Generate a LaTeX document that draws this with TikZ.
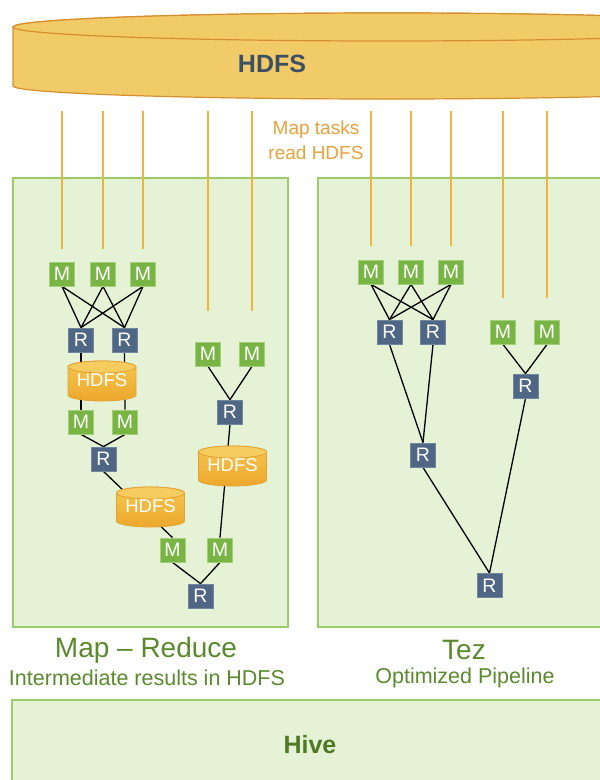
\documentclass[tikz,border=0pt]{standalone}
\usepackage{fontspec}
\setmainfont{Liberation Sans}
\usetikzlibrary{calc}
\definecolor{boxfill}{HTML}{E5F2D5}
\definecolor{boxline}{HTML}{9CCB6A}
\definecolor{mfill}{HTML}{78B544}
\definecolor{mline}{HTML}{A2CF78}
\definecolor{rfill}{HTML}{4F6784}
\definecolor{rline}{HTML}{71879E}
\definecolor{bigfill}{HTML}{F1CB68}
\definecolor{bigline}{HTML}{D98E2E}
\definecolor{cyltopc}{HTML}{F7CC5E}
\definecolor{cylupc}{HTML}{F6C650}
\definecolor{cyldownc}{HTML}{ECA82C}
\definecolor{cylline}{HTML}{E3A232}
\definecolor{orangeline}{HTML}{F0B43A}
\definecolor{orangetext}{HTML}{E6A23C}
\definecolor{labelgreen}{HTML}{5B8A2E}
\definecolor{hivegreen}{HTML}{4E7A25}
\definecolor{hdfstext}{HTML}{3D4F63}
\pgfdeclarelayer{back}
\pgfdeclarelayer{wires}
\pgfsetlayers{back,wires,main}
\tikzset{
  greenbox/.style={fill=boxfill,draw=boxline,line width=1.2pt},
  mbox/.style={rectangle,fill=mfill,draw=mline,line width=0.8pt,minimum width=25pt,minimum height=24pt,inner sep=0pt,text=white,font=\fontsize{19.5}{19.5}\selectfont},
  rbox/.style={rectangle,fill=rfill,draw=rline,line width=0.8pt,minimum width=25pt,minimum height=24pt,inner sep=0pt,text=white,font=\fontsize{19.5}{19.5}\selectfont},
  cylbody/.style={top color=cylupc,bottom color=cyldownc,draw=cylline,line width=0.8pt},
  cyltop/.style={fill=cyltopc,draw=cylline,line width=0.8pt},
  cyltext/.style={rectangle,minimum width=68pt,minimum height=40pt,inner sep=0pt,text=white,font=\fontsize{18.5}{18.5}\selectfont},
  wire/.style={draw=black,line width=1.3pt},
  readline/.style={draw=orangeline,line width=1.5pt},
}
\newcommand{\smallcyl}[3]{%
  \path[cylbody] (#2-34,#3+14) -- (#2-34,#3-14)
    arc[start angle=180,end angle=360,x radius=34,y radius=6]
    -- (#2+34,#3+14)
    arc[start angle=0,end angle=180,x radius=34,y radius=6] -- cycle;
  \path[cyltop] (#2,#3+14) ellipse[x radius=34,y radius=6];
  \node[cyltext] (#1) at (#2,#3+1) {HDFS};
}
\begin{document}
\begin{tikzpicture}[x=1pt,y=1pt]
\useasboundingbox (0,0) rectangle (600,-780);

\begin{pgfonlayer}{back}
  \fill[white] (0,0) rectangle (600,-780);
  \path[greenbox] (13,-178) rectangle (288,-627);
  \path[greenbox] (318,-178) rectangle (640,-627);
  \path[greenbox] (12,-700) rectangle (640,-800);
  % big HDFS cylinder
  \path[fill=bigfill,draw=bigline,line width=1.2pt] (13,-27) -- (13,-86)
    arc[start angle=180,end angle=360,x radius=374,y radius=13]
    -- (761,-27)
    arc[start angle=0,end angle=180,x radius=374,y radius=14] -- cycle;
  \path[fill=bigfill,draw=bigline,line width=1.2pt] (387,-27) ellipse[x radius=374,y radius=14];
\end{pgfonlayer}

\node[text=hdfstext,font=\bfseries\fontsize{25}{25}\selectfont] (hdfs) at (272,-64) {HDFS};
\node[text=orangetext,align=center,font=\fontsize{19}{25}\selectfont] (maptasks) at (316,-140) {Map tasks\\read HDFS};

% left side: Map-Reduce
\node[mbox] (m1) at (62,-274) {M};
\node[mbox] (m2) at (103,-274) {M};
\node[mbox] (m3) at (143,-274) {M};
\node[rbox] (r1) at (81,-340) {R};
\node[rbox] (r2) at (124.5,-340) {R};
\smallcyl{h1}{102}{-381}
\node[mbox] (m4) at (81,-422) {M};
\node[mbox] (m5) at (125,-422) {M};
\node[rbox] (r3) at (103.5,-459) {R};
\smallcyl{h2}{150.5}{-507}
\node[mbox] (m6) at (172.5,-550) {M};
\node[mbox] (m7) at (220,-550) {M};
\node[rbox] (r4) at (200.5,-596) {R};
\node[mbox] (m8) at (208,-354) {M};
\node[mbox] (m9) at (252,-354) {M};
\node[rbox] (r5) at (230,-412) {R};
\smallcyl{h3}{232.5}{-466}

% right side: Tez
\node[mbox] (m10) at (371,-272) {M};
\node[mbox] (m11) at (411,-272) {M};
\node[mbox] (m12) at (451,-272) {M};
\node[rbox] (r6) at (389.5,-332) {R};
\node[rbox] (r7) at (433,-332) {R};
\node[mbox] (m13) at (503,-332) {M};
\node[mbox] (m14) at (547,-332) {M};
\node[rbox] (r8) at (525.5,-386) {R};
\node[rbox] (r9) at (423,-455) {R};
\node[rbox] (r10) at (489.5,-585.5) {R};

% labels
\node[text=labelgreen,font=\fontsize{28}{28}\selectfont] (mrlabel) at (146,-650) {Map -- Reduce};
\node[text=labelgreen,font=\fontsize{21.5}{21.5}\selectfont] (mrsub) at (147,-678) {Intermediate results in HDFS};
\node[text=labelgreen,font=\fontsize{28}{28}\selectfont] (tezlabel) at (464,-650) {Tez};
\node[text=labelgreen,font=\fontsize{21.5}{21.5}\selectfont] (tezsub) at (465,-678) {Optimized Pipeline};
\node[text=hivegreen,font=\bfseries\fontsize{25}{25}\selectfont] (hive) at (310,-745) {Hive};

% orange read lines
\coordinate (src) at (0,-111);
\begin{pgfonlayer}{wires}
  \foreach \n/\s in {m1/13,m2/13,m3/13,m8/31,m9/31,m10/14,m11/14,m12/14,m13/22,m14/22}{
    \draw[readline] (\n.north |- src) -- ([yshift=\s pt]\n.north);
  }
  % map-reduce wires
  \foreach \a in {m1,m2,m3}{
    \foreach \b in {r1,r2}{\draw[wire] (\a.south) -- (\b.north);}
  }
  \draw[wire] (r1.south) -- (m4.north);
  \draw[wire] (r2.south) -- (m5.north);
  \draw[wire] (m4.south) -- (r3.north);
  \draw[wire] (m5.south) -- (r3.north);
  \draw[wire] (r3.south) -- (m6.north);
  \draw[wire] (m8.south) -- (r5.north);
  \draw[wire] (m9.south) -- (r5.north);
  \draw[wire] (r5.south) -- (m7.north);
  \draw[wire] (m6.south) -- (r4.north);
  \draw[wire] (m7.south) -- (r4.north);
  % tez wires
  \foreach \a in {m10,m11,m12}{
    \foreach \b in {r6,r7}{\draw[wire] (\a.south) -- (\b.north);}
  }
  \draw[wire] (r6.south) -- (r9.north);
  \draw[wire] (r7.south) -- (r9.north);
  \draw[wire] (r9.south) -- (r10.north);
  \draw[wire] (m13.south) -- (r8.north);
  \draw[wire] (m14.south) -- (r8.north);
  \draw[wire] (r8.south) -- (r10.north);
\end{pgfonlayer}
\end{tikzpicture}
\end{document}
